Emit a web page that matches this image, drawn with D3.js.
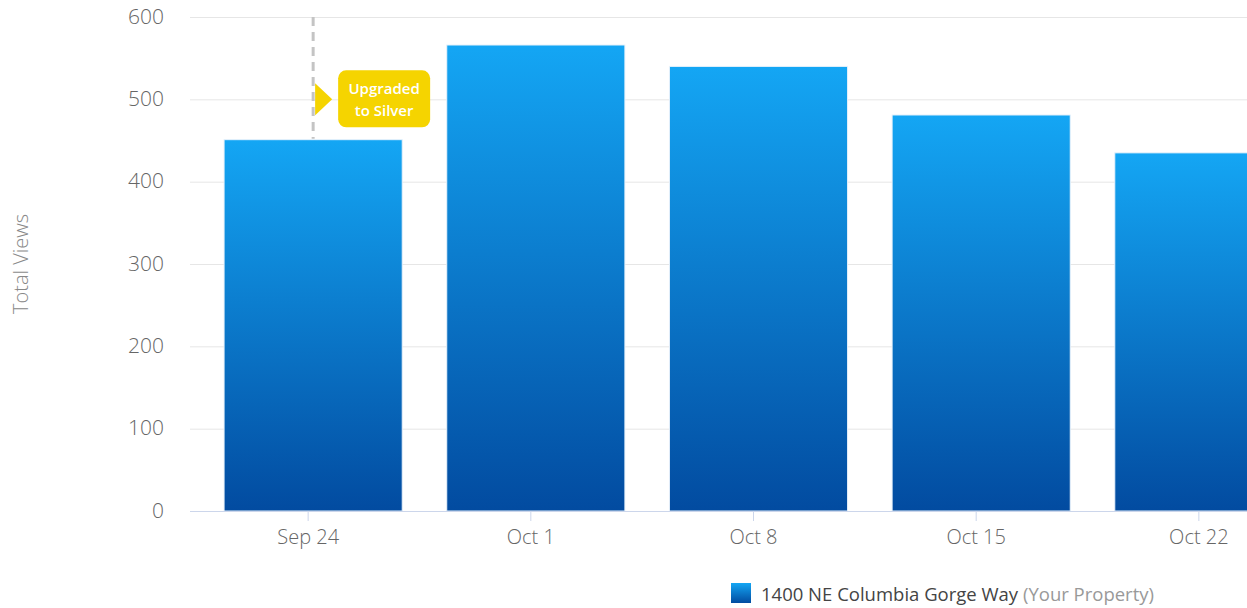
<!DOCTYPE html>
<html>
<head>
<meta charset="utf-8">
<script src="https://cdn.jsdelivr.net/npm/d3@7"></script>
<style>
  body { margin: 0; background: #fff; overflow: hidden; }
  svg { display: block; font-family: "Open Sans", Lato, sans-serif; }
</style>
</head>
<body>
<div id="chart"></div>
<script>
const weeks = ["Sep 24", "Oct 1", "Oct 8", "Oct 15", "Oct 22"];
const views = [451, 566, 540, 481, 435];
const yTicks = [0, 100, 200, 300, 400, 500, 600];
const seriesName = "1400 NE Columbia Gorge Way";
const seriesNote = "(Your Property)";
const upgradeWeek = "Sep 24";
const upgradeText = ["Upgraded", "to Silver"];

let width = 1247,
    height = 608,
    margin = ({ top: 17, right: 0, bottom: 97, left: 190 });

const font = '"Open Sans", Lato, sans-serif';

const svg = d3.select("#chart")
  .append("svg")
  .attr("width", width)
  .attr("height", height);

const defs = svg.append("defs");
const grad = defs.append("linearGradient")
  .attr("id", "barGrad")
  .attr("x1", 0).attr("y1", 0).attr("x2", 0).attr("y2", 1);
grad.append("stop").attr("offset", "0%").attr("stop-color", "#14a6f4");
grad.append("stop").attr("offset", "100%").attr("stop-color", "#024ba0");

// band scale runs past the right edge, like the original (clipped)
let x = d3.scaleBand()
  .domain(weeks)
  .range([margin.left, 1327])
  .paddingInner(0.2)
  .paddingOuter(0.153);

let y = d3.scaleLinear()
  .domain([0, 600])
  .range([height - margin.bottom, margin.top]);

// gridlines + y labels
const yAx = svg.append("g")
  .attr("class", "y_ax")
  .attr("transform", `translate(${margin.left},0)`)
  .call(d3.axisLeft(y).tickValues(yTicks).tickSize(-(width - margin.left)).tickPadding(26));
yAx.attr("font-family", font);
yAx.select(".domain").remove();
yAx.selectAll(".tick line").attr("stroke", "#e6e6e6");
yAx.selectAll(".tick text")
  .attr("fill", "#666")
  .style("font-size", "21px")
  .style("font-weight", "300")
  .attr("dy", "0.3em");

// bars
svg.append("g")
  .selectAll("rect")
  .data(weeks)
  .join("rect")
  .attr("x", d => x(d))
  .attr("y", (d, i) => y(views[i]))
  .attr("width", x.bandwidth())
  .attr("height", (d, i) => y(0) - y(views[i]))
  .attr("fill", "url(#barGrad)")
  .attr("stroke", "#e8f2fb")
  .attr("stroke-width", 1);

// x axis (labels sit a few px left of bar centre)
const xAx = svg.append("g")
  .attr("transform", `translate(-5,${y(0)})`)
  .call(d3.axisBottom(x).tickSize(10).tickPadding(9));
xAx.attr("font-family", font);
xAx.select(".domain").remove();
xAx.selectAll(".tick line").attr("stroke", "#ccd6eb");
xAx.selectAll(".tick text")
  .attr("fill", "#666")
  .style("font-size", "20px")
  .style("font-weight", "300");

svg.append("line")
  .attr("x1", margin.left).attr("x2", width)
  .attr("y1", y(0) + 0.5).attr("y2", y(0) + 0.5)
  .attr("stroke", "#ccd6eb");

// y title
svg.append("text")
  .attr("transform", `translate(28,${(y(0) + y(600)) / 2}) rotate(-90)`)
  .attr("text-anchor", "middle")
  .attr("fill", "#888")
  .style("font-size", "20px")
  .style("font-weight", "300")
  .text("Total Views");

// upgrade annotation
const ux = x(upgradeWeek) + x.bandwidth() / 2;
const upIdx = weeks.indexOf(upgradeWeek);
svg.append("line")
  .attr("x1", ux).attr("x2", ux)
  .attr("y1", y(600)).attr("y2", y(views[upIdx]) - 1)
  .attr("stroke", "#c4c4c4")
  .attr("stroke-width", 3)
  .attr("stroke-dasharray", "9,6");

const ay = y(500);
svg.append("path")
  .attr("d", `M${ux + 2},${ay - 16}L${ux + 19},${ay}L${ux + 2},${ay + 16}Z`)
  .attr("fill", "#f5d400");
svg.append("rect")
  .attr("x", ux + 25).attr("y", ay - 29)
  .attr("width", 92).attr("height", 57)
  .attr("rx", 8)
  .attr("fill", "#f5d400");
svg.append("text")
  .attr("x", ux + 71)
  .attr("text-anchor", "middle")
  .attr("fill", "#fff")
  .style("font-size", "15px")
  .style("font-weight", "600")
  .selectAll("tspan")
  .data(upgradeText)
  .join("tspan")
  .attr("x", ux + 71)
  .attr("y", (d, i) => ay - 5 + i * 22)
  .text(d => d);

// legend
const legend = svg.append("g").attr("transform", "translate(731,583)");
legend.append("rect")
  .attr("width", 20).attr("height", 20)
  .attr("fill", "url(#barGrad)");
const lt = legend.append("text")
  .attr("x", 30).attr("y", 18)
  .style("font-size", "18.5px");
lt.append("tspan").attr("fill", "#444").text(seriesName + " ");
lt.append("tspan").attr("fill", "#999").text(seriesNote);
</script>
</body>
</html>
